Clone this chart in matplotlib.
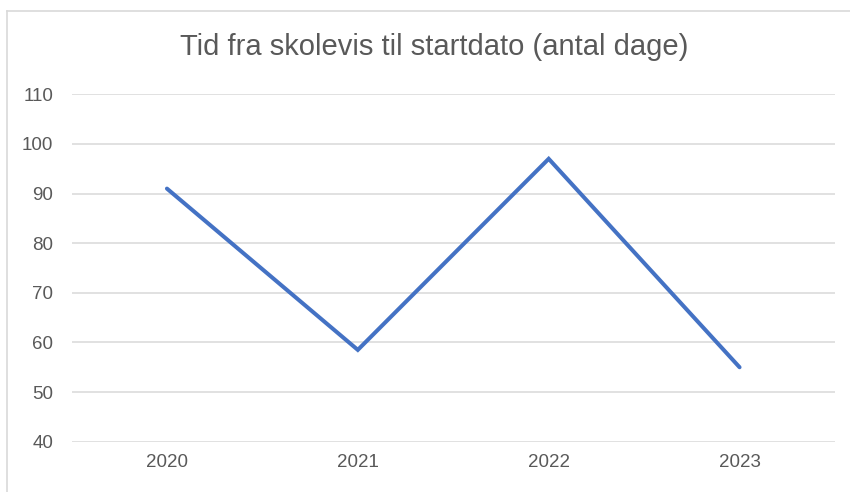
import matplotlib
matplotlib.use("Agg")
import matplotlib.pyplot as plt
from matplotlib.lines import Line2D

# data
years = ["2020", "2021", "2022", "2023"]
days = [91, 58.5, 97, 55]
yticks = [40, 50, 60, 70, 80, 90, 100, 110]

W, H = 850, 492
LINE_C, TEXT_C, GRID_C = "#4472C4", "#595959", "#D9D9D9"

fig = plt.figure(figsize=(W / 100, H / 100), dpi=100)
fig.patch.set_facecolor("white")

# plot area in pixel coords -> figure fraction
x0, x1, ytop, ybot = 71.5, 835, 94.3, 441.7
ax = fig.add_axes([x0 / W, 1 - ybot / H, (x1 - x0) / W, (ybot - ytop) / H])

xs = list(range(len(years)))
ax.plot(xs, days, color=LINE_C, lw=2.9, solid_capstyle="round", solid_joinstyle="miter")
ax.set_xlim(-0.5, len(years) - 0.5)
ax.set_ylim(yticks[0], yticks[-1])
ax.set_yticks(yticks)
ax.set_xticks(xs)
ax.set_xticklabels(years)
ax.grid(axis="y", color=GRID_C, lw=1.1)
ax.set_axisbelow(True)
for s in ax.spines.values():
    s.set_visible(False)
ax.tick_params(length=0, colors=TEXT_C, labelsize=13.5)
ax.tick_params(axis="y", pad=13)
ax.tick_params(axis="x", pad=9)
for lab in ax.get_xticklabels() + ax.get_yticklabels():
    lab.set_family("Liberation Sans")

fig.text(434 / W, 1 - 47 / H, "Tid fra skolevis til startdato (antal dage)",
         ha="center", va="center", fontsize=21, color=TEXT_C, family="Liberation Sans")

# faint chart-area border (top and left edges visible)
fig.add_artist(Line2D([6.5 / W, 1], [1 - 11 / H, 1 - 11 / H], color=GRID_C, lw=1.2,
                      transform=fig.transFigure))
fig.add_artist(Line2D([6.5 / W, 6.5 / W], [0, 1 - 11 / H], color=GRID_C, lw=1.2,
                      transform=fig.transFigure))

fig.savefig("out.png", dpi=100)
